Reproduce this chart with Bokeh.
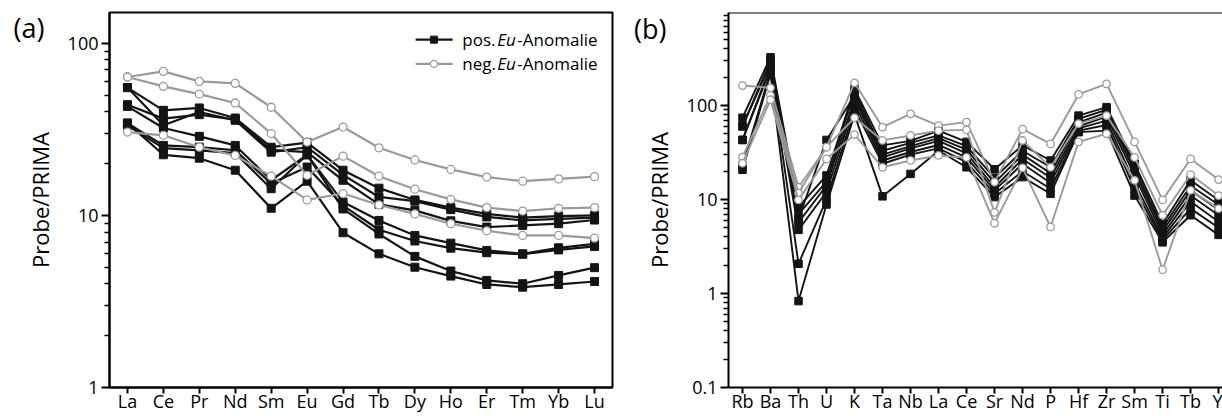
from bokeh.plotting import figure
from bokeh.layouts import row
from bokeh.models import Range1d, FixedTicker, NumeralTickFormatter, Label, Span, LogAxis
from bokeh.embed import file_html
from bokeh.resources import INLINE

FONT = "Open Sans"
BLACK = "#141414"
GRAY = "#9a9a9a"

# ---------------- data ----------------
ree = ["La", "Ce", "Pr", "Nd", "Sm", "Eu", "Gd", "Tb", "Dy", "Ho", "Er", "Tm", "Yb", "Lu"]

ree_pos_1 = [55.3, 40.8, 42.1, 36.8, 24.9, 26.5, 18.3, 14.4, 12.3, 11.1, 10.2, 9.7, 9.9, 10.0]
ree_pos_2 = [55.3, 33.4, 39.9, 35.7, 23.3, 24.9, 17.2, 12.8, 12.1, 10.8, 9.8, 9.35, 9.55, 9.7]
ree_pos_3 = [44.0, 36.5, 38.5, 36.0, 24.0, 23.3, 16.0, 11.6, 10.7, 9.3, 8.55, 8.75, 8.95, 9.4]
ree_pos_4 = [43.0, 32.2, 28.8, 25.5, 16.0, 22.5, 11.95, 9.35, 7.65, 6.9, 6.26, 5.98, 6.48, 6.84]
ree_pos_5 = [34.4, 25.5, 24.9, 23.9, 15.3, 19.1, 11.4, 8.25, 7.1, 6.45, 6.07, 5.95, 6.3, 6.6]
ree_pos_6 = [33.4, 24.6, 23.9, 23.0, 14.3, 22.5, 10.9, 7.8, 5.78, 4.75, 4.19, 4.01, 4.48, 4.97]
ree_pos_7 = [34.4, 22.5, 21.5, 18.3, 11.0, 15.8, 7.93, 5.98, 5.0, 4.44, 3.97, 3.83, 3.97, 4.13]

ree_neg_1 = [63.7, 68.7, 60.1, 58.5, 42.5, 26.7, 32.6, 24.7, 21.0, 18.5, 16.7, 15.8, 16.3, 16.8]
ree_neg_2 = [63.7, 56.2, 50.7, 45.0, 29.9, 17.1, 22.1, 16.9, 14.2, 12.4, 11.1, 10.6, 11.0, 11.1]
ree_neg_3 = [30.5, 29.2, 24.9, 22.3, 16.9, 12.3, 13.4, 11.5, 10.2, 8.95, 8.14, 7.65, 7.65, 7.38]

spider = ["Rb", "Ba", "Th", "U", "K", "Ta", "Nb", "La", "Ce", "Sr", "Nd", "P",
          "Hf", "Zr", "Sm", "Ti", "Tb", "Y"]

sp_pos_1 = [74, 326, 8.3, 18, 150, 37.6, 42, 54, 41, 21, 37.6, 26, 78, 96, 24, 5.5, 16, 9.8]
sp_pos_2 = [60, 300, 7.0, 15.5, 140, 33, 40, 48, 37, 17, 33, 22, 72, 90, 22, 5.0, 14, 8.8]
sp_pos_3 = [60, 280, 6.2, 43, 128, 30, 37, 45, 34, 15, 30, 19, 66, 84, 20, 4.6, 12.5, 7.8]
sp_pos_4 = [43, 260, 5.7, 14.1, 118, 28, 35, 42, 31, 13.5, 27, 17, 60, 76, 18, 4.2, 11, 6.8]
sp_pos_5 = [43, 245, 4.75, 12, 105, 26, 32, 38, 28, 12.5, 24, 15, 57, 69, 15, 3.9, 9.5, 5.8]
sp_pos_6 = [23, 230, 2.07, 10, 92, 24, 30, 35, 25, 11.5, 20, 13, 54, 62, 13, 3.7, 8, 5.0]
sp_pos_7 = [20.7, 217, 0.83, 8.85, 80, 10.8, 18.7, 33, 22, 10.6, 17.3, 11.5, 52, 54, 11, 3.5, 6.8, 4.2]

sp_neg_1 = [163, 154, 13.5, 36, 174, 58.8, 81.5, 61, 66.5, 15.3, 56, 39, 131, 170, 41, 9.9, 27, 16.3]
sp_neg_2 = [28.2, 128, 11.7, 36, 74, 42.5, 48, 54, 55, 7.3, 42.4, 22, 64, 78, 28, 6.8, 18.4, 11]
sp_neg_3 = [24.3, 115, 9.9, 27, 49, 22, 26, 29.4, 28, 5.6, 21.7, 5.1, 41, 50, 16, 1.79, 12.5, 8]

ree_pos = [ree_pos_1, ree_pos_2, ree_pos_3, ree_pos_4, ree_pos_5, ree_pos_6, ree_pos_7]
ree_neg = [ree_neg_1, ree_neg_2, ree_neg_3]
sp_pos = [sp_pos_1, sp_pos_2, sp_pos_3, sp_pos_4, sp_pos_5, sp_pos_6, sp_pos_7]
sp_neg = [sp_neg_1, sp_neg_2, sp_neg_3]

legend_labels = [("pos.", "Eu", "-Anomalie"), ("neg.", "Eu", "-Anomalie")]
panel_tags = ["(a)", "(b)"]


def style(p, cats, majors, minors, tick_font="18px"):
    p.grid.visible = False
    p.background_fill_color = "white"
    p.border_fill_color = "white"
    xa = p.xaxis[0]
    xa.ticker = FixedTicker(ticks=list(range(len(cats))), minor_ticks=[])
    xa.major_label_overrides = {i: c for i, c in enumerate(cats)}
    xa.axis_line_width = 2
    xa.axis_line_color = "black"
    xa.major_tick_in = 0
    xa.major_tick_out = 6
    xa.major_tick_line_width = 2
    xa.minor_tick_out = 0
    xa.minor_tick_in = 0
    xa.major_label_standoff = -5
    xa.major_label_text_font = FONT
    xa.major_label_text_font_size = tick_font
    xa.major_label_text_color = "black"

    ya = p.yaxis[0]
    ya.ticker = FixedTicker(ticks=majors, minor_ticks=minors)
    ya.formatter = NumeralTickFormatter(format="0.[0]")
    ya.axis_line_width = 2
    ya.axis_line_color = "black"
    ya.major_tick_in = 0
    ya.major_tick_out = 8
    ya.major_tick_line_width = 2
    ya.minor_tick_in = 0
    ya.minor_tick_out = 5
    ya.minor_tick_line_width = 1.5
    ya.major_label_standoff = 3
    ya.major_label_text_font = FONT
    ya.major_label_text_font_size = tick_font
    ya.major_label_text_color = "black"
    ya.axis_label = "Probe/PRIMA"
    ya.axis_label_text_font = FONT
    ya.axis_label_text_font_size = "22px"
    ya.axis_label_text_font_style = "normal"
    ya.axis_label_text_color = "black"
    ya.axis_label_standoff = 10


def add_tag(p, tag, yval, standoff):
    # panel letter drawn as the only label of an extra, otherwise invisible, left axis
    ax = LogAxis(ticker=FixedTicker(ticks=[yval], minor_ticks=[]))
    ax.major_label_overrides = {yval: tag}
    ax.axis_line_color = None
    ax.major_tick_line_color = None
    ax.minor_tick_line_color = None
    ax.major_tick_out = 0
    ax.major_tick_in = 0
    ax.minor_tick_out = 0
    ax.minor_tick_in = 0
    ax.major_label_standoff = standoff
    ax.major_label_text_font = FONT
    ax.major_label_text_font_size = "27px"
    ax.major_label_text_color = "black"
    p.add_layout(ax, "left")


def draw(p, pos_series, neg_series, sq, circ, lw):
    for s in pos_series:
        xs = list(range(len(s)))
        p.line(xs, s, line_color=BLACK, line_width=lw)
        p.scatter(xs, s, marker="square", size=sq, fill_color=BLACK, line_color=BLACK)
    for s in neg_series:
        xs = list(range(len(s)))
        p.line(xs, s, line_color=GRAY, line_width=lw)
        p.scatter(xs, s, marker="circle", size=circ, fill_color="white",
                  line_color=GRAY, line_width=1.3)


# ---------------- panel (a) ----------------
pa = figure(width=620, height=416, x_range=Range1d(-0.5, 13.5), y_range=Range1d(1, 151),
            y_axis_type="log", output_backend="svg", toolbar_location=None,
            min_border_left=109, min_border_right=8, min_border_top=12, min_border_bottom=29)
style(pa, ree, [1, 10, 100], [2, 3, 4, 5, 6, 7, 8, 9, 20, 30, 40, 50, 60, 70, 80, 90])
pa.outline_line_color = "black"
pa.outline_line_width = 2
pa.outline_line_alpha = 1
draw(pa, ree_pos, ree_neg, 8, 8, 2.2)
add_tag(pa, panel_tags[0], 124, -23)

# legend (manual, for italic "Eu")
leg_y = [105, 76]
leg_col = [BLACK, GRAY]
for k, (a, b, c) in enumerate(legend_labels):
    yy = [leg_y[k], leg_y[k]]
    pa.line([8.02, 9.05], yy, line_color=leg_col[k], line_width=2.2)
    if k == 0:
        pa.scatter([8.53], [leg_y[k]], marker="square", size=7, fill_color=BLACK, line_color=BLACK)
    else:
        pa.scatter([8.53], [leg_y[k]], marker="circle", size=7, fill_color="white",
                   line_color=GRAY, line_width=1.3)
    for txt, off, st in [(a, 0, "normal"), (b, 35, "italic"), (c, 55, "normal")]:
        pa.add_layout(Label(x=9.32, y=leg_y[k], x_offset=off, text=txt, text_font=FONT,
                            text_font_size="17px", text_font_style=st,
                            text_baseline="middle", text_align="left", text_color="black"))

# ---------------- panel (b) ----------------
pb = figure(width=602, height=416, x_range=Range1d(-0.5, 17.14), y_range=Range1d(0.1, 975),
            y_axis_type="log", output_backend="svg", toolbar_location=None,
            min_border_left=108, min_border_right=0, min_border_top=12, min_border_bottom=29)
minors_b = [m * d for d in (0.1, 1, 10, 100) for m in range(2, 10)]
style(pb, spider, [0.1, 1, 10, 100], minors_b)
pb.outline_line_color = None
pb.add_layout(Span(location=975, dimension="width", line_color="black", line_width=2))
draw(pb, sp_pos, sp_neg, 7.5, 7.5, 1.9)
add_tag(pb, panel_tags[1], 659, -26)

layout = row(pa, pb)
open("out.html", "w").write(file_html(layout, INLINE))
